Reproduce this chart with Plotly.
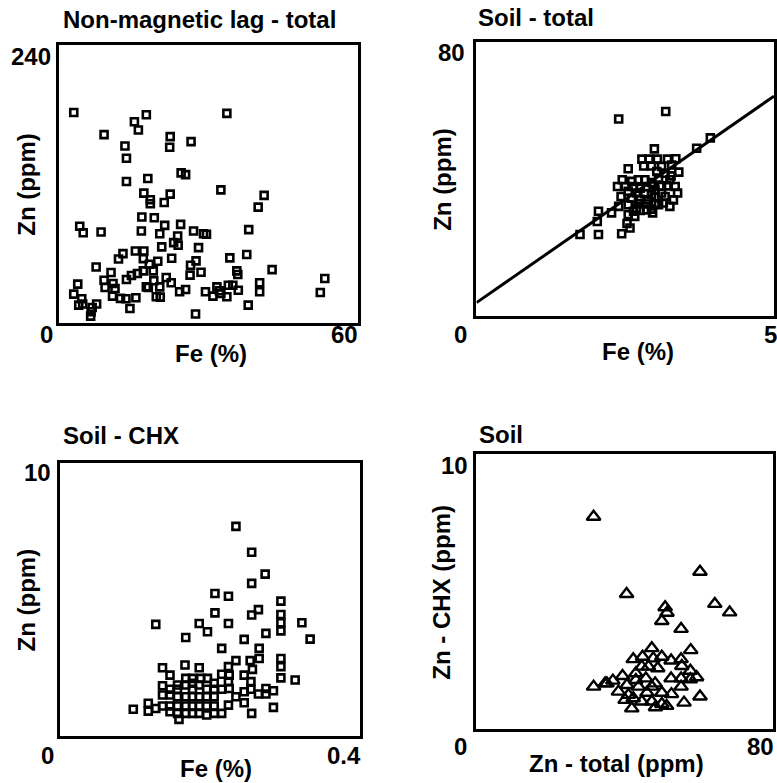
import plotly.graph_objects as go

W, H = 777, 783

# ---------------- Panel 1: Non-magnetic lag - total ----------------
lag_fe = [2.9, 17.5, 15.1, 15.9, 9.0, 22.3, 22.2, 26.5, 33.7, 13.2, 13.5, 13.5, 17.8, 24.5, 25.4,
          32.5, 17.0, 18.3, 18.3, 22.3, 21.1, 41.2, 40.0, 16.6, 19.1, 4.1, 4.8, 8.4, 16.5, 21.2,
          24.4, 20.2, 23.8, 27.0, 29.0, 29.6, 38.1, 23.0, 23.9, 20.6, 28.0, 15.3, 17.0, 12.8, 11.9,
          16.9, 22.6, 34.3, 37.7, 7.4, 18.1, 19.8, 18.9, 16.9, 15.7, 14.5, 13.5, 10.4, 26.4, 27.5,
          28.5, 26.3, 35.7, 35.9, 42.8, 53.4, 52.5, 3.7, 9.0, 9.2, 10.8, 11.2, 10.7, 2.9, 4.5,
          3.9, 4.7, 6.6, 7.5, 6.3, 6.4, 12.3, 13.4, 14.2, 15.4, 17.5, 17.9, 19.0, 20.2, 19.5,
          20.3, 21.5, 22.5, 24.2, 25.4, 27.4, 29.4, 30.9, 31.7, 32.2, 33.7, 34.0, 34.9, 36.0,
          38.0, 40.3, 40.3, 32.5]
lag_zn = [181.7, 179.7, 173.7, 166.5, 162.5, 160.8, 151.6, 156.5, 180.9, 152.7, 142.1, 122.0, 124.6,
          129.5, 128.0, 114.8, 112.0, 106.2, 102.8, 111.1, 103.9, 110.0, 99.9, 91.3, 90.7, 83.3,
          77.8, 78.4, 79.2, 84.1, 85.0, 76.9, 74.9, 79.2, 76.9, 76.4, 80.4, 69.2, 66.9, 65.5, 64.9,
          62.0, 62.0, 59.7, 55.1, 55.4, 55.7, 56.0, 58.9, 48.2, 50.5, 53.1, 44.8, 44.8, 42.5, 40.8,
          37.3, 43.4, 49.7, 53.4, 43.6, 41.1, 44.8, 41.6, 45.9, 38.2, 26.1, 33.3, 36.7, 30.4, 33.9,
          29.6, 23.0, 24.7, 20.7, 15.2, 16.1, 13.2, 16.1, 5.7, 9.5, 21.0, 20.7, 12.3, 21.5, 31.0,
          30.4, 36.2, 31.0, 22.4, 22.1, 39.0, 34.5, 26.7, 28.7, 7.5, 26.7, 23.0, 31.0, 27.6, 22.4,
          32.4, 32.4, 28.1, 15.2, 34.5, 26.7, 25.3]

# ---------------- Panel 2: Soil - total ----------------
soil_fe = [2.39, 3.18, 3.93, 3.70, 2.99, 2.55, 1.74, 2.05, 2.44, 2.03, 2.05, 2.27, 2.39, 2.53, 2.58,
           2.37, 2.45, 2.55, 2.43, 2.78, 2.90, 3.04, 3.21, 3.35, 2.81, 2.94, 3.11, 3.28, 3.03, 3.17,
           3.27, 3.40, 3.06, 2.61, 2.72, 2.83, 2.94, 2.64, 2.75, 2.86, 2.97, 3.20, 2.69, 2.83, 2.94,
           3.38, 2.61, 2.75, 2.89, 3.00, 3.17, 3.31, 2.55, 2.72, 2.86, 3.00, 3.14, 3.25, 2.64, 2.75,
           2.86, 2.96, 2.55, 2.66, 2.94, 3.06, 3.11, 3.00, 2.50, 3.25, 3.11, 3.34, 2.69]
soil_zn = [57.5, 59.7, 52.0, 49.0, 48.8, 43.0, 23.8, 23.8, 24.0, 27.6, 30.6, 30.1, 32.0, 27.0, 25.7,
           37.8, 39.8, 36.4, 34.9, 45.8, 45.8, 45.8, 45.8, 45.9, 43.8, 43.8, 43.7, 44.1, 42.2, 41.7,
           40.9, 42.0, 40.3, 39.3, 39.8, 39.8, 39.0, 37.8, 37.3, 37.8, 38.0, 38.0, 35.9, 35.7, 35.4,
           35.9, 34.4, 34.1, 33.9, 34.7, 34.9, 33.9, 32.5, 32.8, 32.7, 32.8, 33.0, 32.0, 30.6, 30.8,
           31.0, 30.1, 29.6, 29.1, 31.2, 32.5, 35.9, 36.7, 37.8, 39.8, 37.8, 37.8, 31.5]
fit_fe = [0, 5]
fit_zn = [3.9, 64.2]

# ---------------- Panel 3: Soil - CHX ----------------
chx_fe = [0.235, 0.256, 0.274, 0.256, 0.207, 0.225, 0.295, 0.265, 0.256, 0.207, 0.295, 0.295, 0.295,
          0.323, 0.334, 0.128, 0.186, 0.197, 0.225, 0.275, 0.168, 0.246, 0.216, 0.266, 0.266, 0.295,
          0.295, 0.295, 0.314, 0.137, 0.167, 0.186, 0.235, 0.254, 0.225, 0.246, 0.257, 0.147, 0.216,
          0.225, 0.255, 0.157, 0.168, 0.177, 0.188, 0.197, 0.157, 0.168, 0.177, 0.186, 0.196, 0.206,
          0.216, 0.226, 0.235, 0.246, 0.255, 0.265, 0.275, 0.275, 0.285, 0.137, 0.147, 0.157, 0.168,
          0.177, 0.186, 0.196, 0.206, 0.225, 0.246, 0.285, 0.098, 0.118, 0.118, 0.128, 0.137, 0.147,
          0.147, 0.157, 0.157, 0.168, 0.168, 0.177, 0.186, 0.196, 0.196, 0.206, 0.216, 0.256, 0.159,
          0.177, 0.186, 0.206, 0.137, 0.147, 0.177, 0.206, 0.226]
chx_zn = [7.68, 6.73, 5.93, 5.59, 5.22, 5.12, 4.94, 4.63, 4.43, 4.51, 4.45, 4.15, 3.85, 4.15, 3.55,
          4.09, 4.12, 3.82, 4.12, 3.76, 3.61, 3.54, 3.21, 3.21, 2.84, 2.84, 2.54, 2.13, 2.05, 2.50,
          2.60, 2.50, 2.76, 2.76, 2.54, 2.23, 2.44, 2.23, 2.26, 1.99, 1.99, 1.87, 2.11, 2.11, 2.11,
          2.11, 1.71, 1.87, 1.71, 1.87, 1.71, 1.71, 1.71, 1.74, 1.44, 1.62, 1.71, 1.54, 1.54, 1.74,
          1.66, 1.50, 1.50, 1.44, 1.44, 1.44, 1.44, 1.44, 1.44, 1.13, 1.22, 1.05, 0.98, 1.20, 0.91,
          1.01, 1.10, 1.10, 0.89, 1.10, 0.83, 1.10, 0.83, 1.10, 0.83, 1.10, 0.77, 1.10, 0.83, 0.83,
          0.61, 0.83, 1.10, 0.83, 1.84, 1.71, 1.93, 1.93, 2.23]

# ---------------- Panel 4: Soil (Zn total vs Zn CHX) ----------------
zn_total = [31.6, 60.3, 40.5, 64.3, 68.3, 50.9, 51.4, 50.0, 55.2, 47.3, 57.8, 42.3, 44.8, 47.7, 50.0,
            52.5, 55.2, 55.4, 57.7, 59.4, 31.6, 35.2, 36.8, 39.4, 40.6, 43.0, 44.6, 45.7, 48.2, 43.0,
            48.9, 52.5, 55.2, 55.2, 57.7, 38.3, 41.0, 42.3, 44.6, 46.0, 47.3, 50.0, 50.0, 52.6, 56.0,
            60.3, 41.9, 48.3, 51.3, 40.1, 43.7, 47.3, 46.4, 34.7]
zn_chx = [7.73, 5.73, 4.92, 4.56, 4.25, 4.44, 4.24, 3.94, 3.65, 2.95, 2.88, 2.55, 2.64, 2.58, 2.64,
          2.50, 2.55, 2.30, 2.13, 1.89, 1.55, 1.67, 1.77, 1.94, 1.61, 2.04, 2.28, 1.85, 1.67, 1.79,
          2.22, 1.85, 1.85, 1.55, 1.82, 1.37, 1.25, 1.13, 1.01, 1.33, 1.01, 1.33, 0.92, 1.28, 0.97,
          1.19, 0.76, 0.80, 0.85, 1.07, 1.55, 1.55, 2.28, 1.67]

titles = ["Non-magnetic lag - total", "Soil - total", "Soil - CHX", "Soil"]
x_titles = ["Fe (%)", "Fe (%)", "Fe (%)", "Zn - total (ppm)"]
y_titles = ["Zn (ppm)", "Zn (ppm)", "Zn (ppm)", "Zn - CHX (ppm)"]
x_ranges = [[0, 60], [0, 5], [0, 0.4], [0, 80]]
y_ranges = [[0, 240], [0, 80], [0, 10], [0, 10]]
x_max_labels = ["60", "5", "0.4", "80"]
y_max_labels = ["240", "80", "10", "10"]

# panel boxes in pixels: left, right, top, bottom
boxes = [(59.5, 358.5, 45, 322.7), (477.7, 776, 42, 316),
         (60, 360.5, 463, 736), (477.7, 775, 454.3, 729.3)]

FONT = "Liberation Sans, Arial, sans-serif"
FS = 24

def px(x):
    return x / W

def py(y):
    return 1 - y / H

fig = go.Figure()
mk_sq = dict(symbol="square-open", size=7, color="black", line=dict(width=2.6, color="black"))
mk_tr = dict(symbol="triangle-up-open", size=12, color="black", line=dict(width=2.4, color="black"))

fig.add_trace(go.Scatter(x=lag_fe, y=lag_zn, mode="markers", marker=mk_sq, xaxis="x", yaxis="y"))
fig.add_trace(go.Scatter(x=fit_fe, y=fit_zn, mode="lines", line=dict(color="black", width=3),
                         xaxis="x2", yaxis="y2"))
fig.add_trace(go.Scatter(x=soil_fe, y=soil_zn, mode="markers", marker=mk_sq, xaxis="x2", yaxis="y2"))
fig.add_trace(go.Scatter(x=chx_fe, y=chx_zn, mode="markers", marker=mk_sq, xaxis="x3", yaxis="y3"))
fig.add_trace(go.Scatter(x=zn_total, y=zn_chx, mode="markers", marker=mk_tr, xaxis="x4", yaxis="y4"))

ax_common = dict(showline=True, mirror=True, linewidth=2.5, linecolor="black", showgrid=False,
                 zeroline=False, ticks="", showticklabels=False, fixedrange=True)

annotations = []
title_pos = [(61, 20), (477, 17), (61, 436), (478, 434)]
ytitle_x = [27, 443, 27, 443]
zero_pos = [(47, 334), (462, 334), (48, 755), (462, 746)]
xmax_pos = [(345, 334), (772, 334), (345, 755), (762, 746)]
ymax_pos = [(31, 57), (453, 53), (38, 472), (456, 466)]
xtitle_pos = [(212, 353), (640, 352), (217, 768), (618, 763)]

layout_axes = {}
for i in range(4):
    l, r, t, b = boxes[i]
    sfx = "" if i == 0 else str(i + 1)
    layout_axes["xaxis" + sfx] = dict(ax_common, domain=[px(l), px(r)], range=x_ranges[i],
                                      anchor="y" + sfx)
    layout_axes["yaxis" + sfx] = dict(ax_common, domain=[py(b), py(t)], range=y_ranges[i],
                                      anchor="x" + sfx)
    f = dict(family=FONT, size=FS, color="black", weight="bold")
    tx, ty = title_pos[i]
    annotations.append(dict(text=titles[i], x=px(tx), y=py(ty), xref="paper", yref="paper",
                            xanchor="left", yanchor="middle", showarrow=False, font=f))
    annotations.append(dict(text=y_titles[i], x=px(ytitle_x[i]), y=py((t + b) / 2), xref="paper",
                            yref="paper", xanchor="center", yanchor="middle", showarrow=False,
                            textangle=-90, font=f))
    zx, zy = zero_pos[i]
    annotations.append(dict(text="0", x=px(zx), y=py(zy), xref="paper", yref="paper",
                            xanchor="center", yanchor="middle", showarrow=False, font=f))
    mx, my = xmax_pos[i]
    annotations.append(dict(text=x_max_labels[i], x=px(mx), y=py(my), xref="paper", yref="paper",
                            xanchor="center", yanchor="middle", showarrow=False, font=f))
    yx, yy = ymax_pos[i]
    annotations.append(dict(text=y_max_labels[i], x=px(yx), y=py(yy), xref="paper", yref="paper",
                            xanchor="center", yanchor="middle", showarrow=False, font=f))
    xx, xy = xtitle_pos[i]
    annotations.append(dict(text=x_titles[i], x=px(xx), y=py(xy), xref="paper", yref="paper",
                            xanchor="center", yanchor="middle", showarrow=False, font=f))

fig.update_layout(width=W, height=H, margin=dict(l=0, r=0, t=0, b=0), showlegend=False,
                  paper_bgcolor="white", plot_bgcolor="white", annotations=annotations,
                  **layout_axes)

fig.write_html("out.html")
